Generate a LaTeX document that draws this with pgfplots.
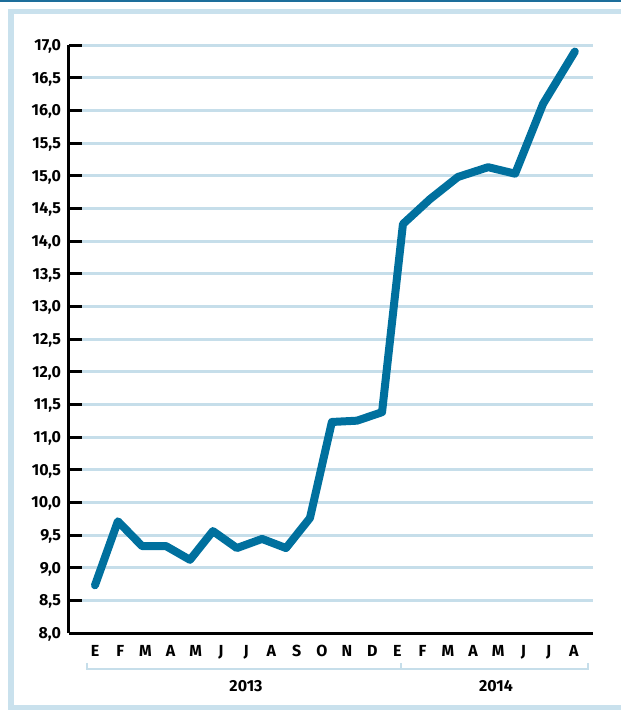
\documentclass[border=0pt]{standalone}
\usepackage{fontspec}
\setmainfont{Fira Sans}
\usepackage{pgfplots}
\pgfplotsset{compat=1.18}

\definecolor{lineblue}{HTML}{00709E}
\definecolor{gridblue}{HTML}{C6DEEA}
\definecolor{frameblue}{HTML}{C9E1ED}
\definecolor{topblue}{HTML}{1D6E9B}

\begin{document}
\begin{tikzpicture}[x=1pt,y=1pt]
  \useasboundingbox (0,0) rectangle (621,710);
  % top rule and open frame
  \fill[topblue] (0,708) rectangle (621,710);
  \draw[frameblue, line width=5.5pt] (621,698.5) -- (11,698.5) -- (11,2.5) -- (621,2.5);

  \begin{axis}[
      at={(69pt,77pt)}, anchor=south west,
      scale only axis, width=524pt, height=588pt,
      xmin=-1.03, xmax=19.76,
      ymin=8, ymax=17,
      clip=false,
      axis x line=bottom, axis y line=left,
      axis line style={-, line width=3pt, black},
      xtick={0,...,19},
      xticklabels={E,F,M,A,M,J,J,A,S,O,N,D,E,F,M,A,M,J,J,A},
      xtick style={draw=none},
      xticklabel style={anchor=base, yshift=-23pt},
      ytick={8,8.5,9,9.5,10,10.5,11,11.5,12,12.5,13,13.5,14,14.5,15,15.5,16,16.5,17},
      ytick style={black, line width=3pt},
      tick align=inside,
      major tick length=13pt,
      yticklabel style={anchor=base east, xshift=-4.5pt, yshift=-5.5pt,
        /pgf/number format/.cd, fixed, fixed zerofill, precision=1, use comma, assume math mode=true},
      ymajorgrids,
      grid style={gridblue, line width=3pt},
      tick label style={font=\fontsize{16}{18}\selectfont\bfseries},
    ]
    \addplot[lineblue, line width=8pt, line cap=round, line join=round] coordinates {
      (0,8.73) (0.91,9.71) (1.87,9.33) (2.82,9.33) (3.77,9.12)
      (4.68,9.56) (5.63,9.30) (6.63,9.44) (7.58,9.30) (8.53,9.76)
      (9.40,11.23) (10.40,11.25) (11.39,11.38) (12.22,14.26) (13.29,14.64)
      (14.40,14.98) (15.60,15.13) (16.67,15.03) (17.78,16.10) (19.04,16.90)
    };
  \end{axis}

  % year brackets
  \draw[gridblue, line width=2.5pt] (87,47) -- (87,41) -- (588,41) -- (588,47);
  \draw[gridblue, line width=2.5pt] (401,41) -- (401,47);
  \node[anchor=base, font=\fontsize{16}{18}\selectfont\bfseries] at (246,18) {2013};
  \node[anchor=base, font=\fontsize{16}{18}\selectfont\bfseries] at (496,18) {2014};
\end{tikzpicture}
\end{document}
